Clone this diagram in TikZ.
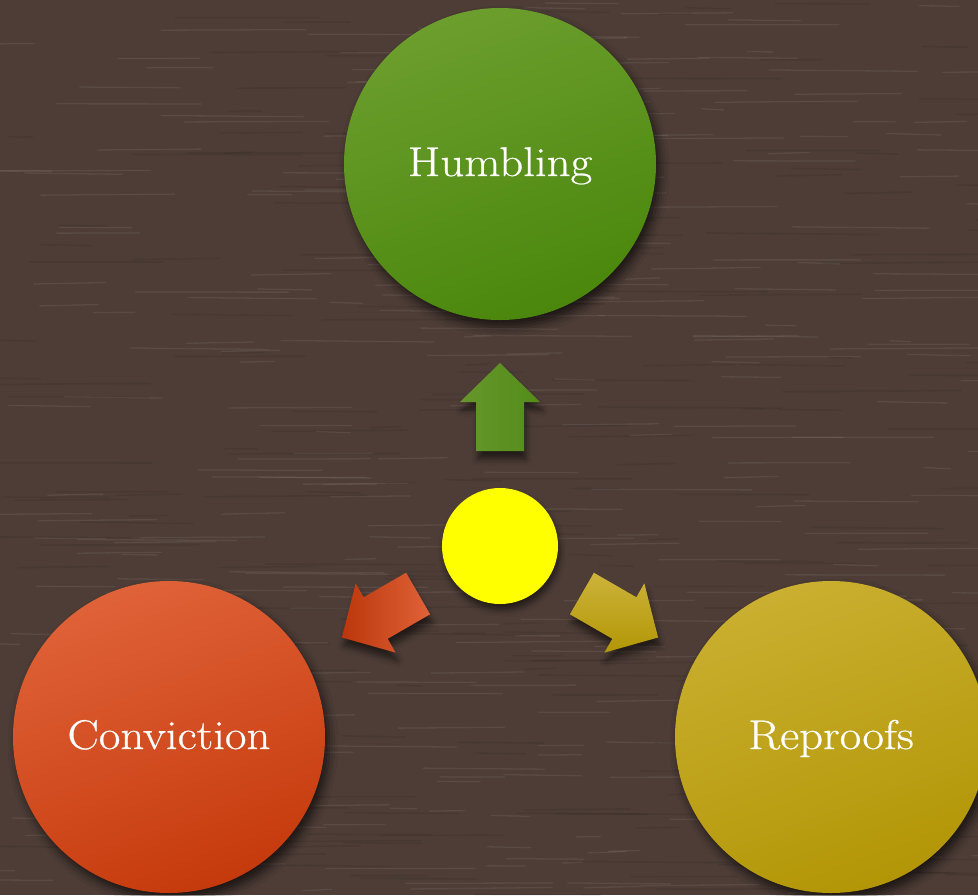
\documentclass[tikz,border=0pt]{standalone}
\usepackage{fontspec}
\setmainfont{Latin Modern Roman}[FakeStretch=1.13, FakeBold=0.6]
\usetikzlibrary{shadows.blur}
\definecolor{wood}{RGB}{78,61,55}
\definecolor{greenA}{RGB}{108,158,46}
\definecolor{greenB}{RGB}{74,135,12}
\definecolor{redA}{RGB}{224,98,56}
\definecolor{redB}{RGB}{197,58,12}
\definecolor{oliveA}{RGB}{202,175,48}
\definecolor{oliveB}{RGB}{178,150,6}
\definecolor{sunY}{RGB}{255,255,0}
\newcommand\fatarrowpath[4]{%
  \path[#4] ([shift={(#1,#2)},rotate=#3]0,-44) -- ([shift={(#1,#2)},rotate=#3]40,-5)
   -- ([shift={(#1,#2)},rotate=#3]24,-5) -- ([shift={(#1,#2)},rotate=#3]24,44)
   -- ([shift={(#1,#2)},rotate=#3]-24,44) -- ([shift={(#1,#2)},rotate=#3]-24,-5)
   -- ([shift={(#1,#2)},rotate=#3]-40,-5) -- cycle;}
\begin{document}
\begin{tikzpicture}[x=1pt,y=-1pt,
  bigdisc/.style={circle, minimum size=312pt, inner sep=0pt, text=white,
    text height=29pt, text depth=5pt,
    font=\fontsize{41.5}{48}\selectfont,
    blur shadow={shadow xshift=4pt, shadow yshift=-7pt, shadow blur radius=9pt, shadow opacity=65}},
  arrowshadow/.style={blur shadow={shadow xshift=2pt, shadow yshift=-8pt, shadow blur radius=6pt, shadow opacity=55}}]
\clip (0,0) rectangle (978,895);
\fill[wood] (0,0) rectangle (978,895);
\pgfmathsetseed{7}
\foreach \i in {1,...,320}{
  \pgfmathsetmacro\xa{rnd*1000-20}
  \pgfmathsetmacro\ya{rnd*895}
  \pgfmathsetmacro\ln{20+rnd*140}
  \pgfmathsetmacro\dy{rnd*3-1.5}
  \draw[white, opacity=0.07, line width=1.3pt, line cap=round] (\xa,\ya) -- ++(\ln,\dy);
}
\foreach \i in {1,...,220}{
  \pgfmathsetmacro\xa{rnd*1000-20}
  \pgfmathsetmacro\ya{rnd*895}
  \pgfmathsetmacro\ln{20+rnd*160}
  \pgfmathsetmacro\dy{rnd*3-1.5}
  \draw[black, opacity=0.08, line width=1.6pt, line cap=round] (\xa,\ya) -- ++(\ln,\dy);
}
% big circles
\node[bigdisc, top color=greenA, bottom color=greenB, shading angle=20] (humb) at (500,164) {Humbling};
\node[bigdisc, top color=redA, bottom color=redB, shading angle=20] (conv) at (169,737) {Conviction};
\node[bigdisc, top color=oliveA, bottom color=oliveB, shading angle=20] (repr) at (831,737) {Reproofs};
% arrows
\fatarrowpath{500}{407}{0}{arrowshadow, left color=greenA!95!black, right color=greenB!95!white}
\fatarrowpath{380}{615.5}{120}{arrowshadow, left color=redB!95!black, right color=redA}
\fatarrowpath{620}{615.5}{-120}{arrowshadow, top color=oliveA!95!white, bottom color=oliveB}
% centre
\node[circle, minimum size=116pt, inner sep=0pt, fill=sunY,
  blur shadow={shadow xshift=2pt, shadow yshift=-6pt, shadow blur radius=6pt, shadow opacity=55}] (core) at (500,546) {};
\end{tikzpicture}
\end{document}
